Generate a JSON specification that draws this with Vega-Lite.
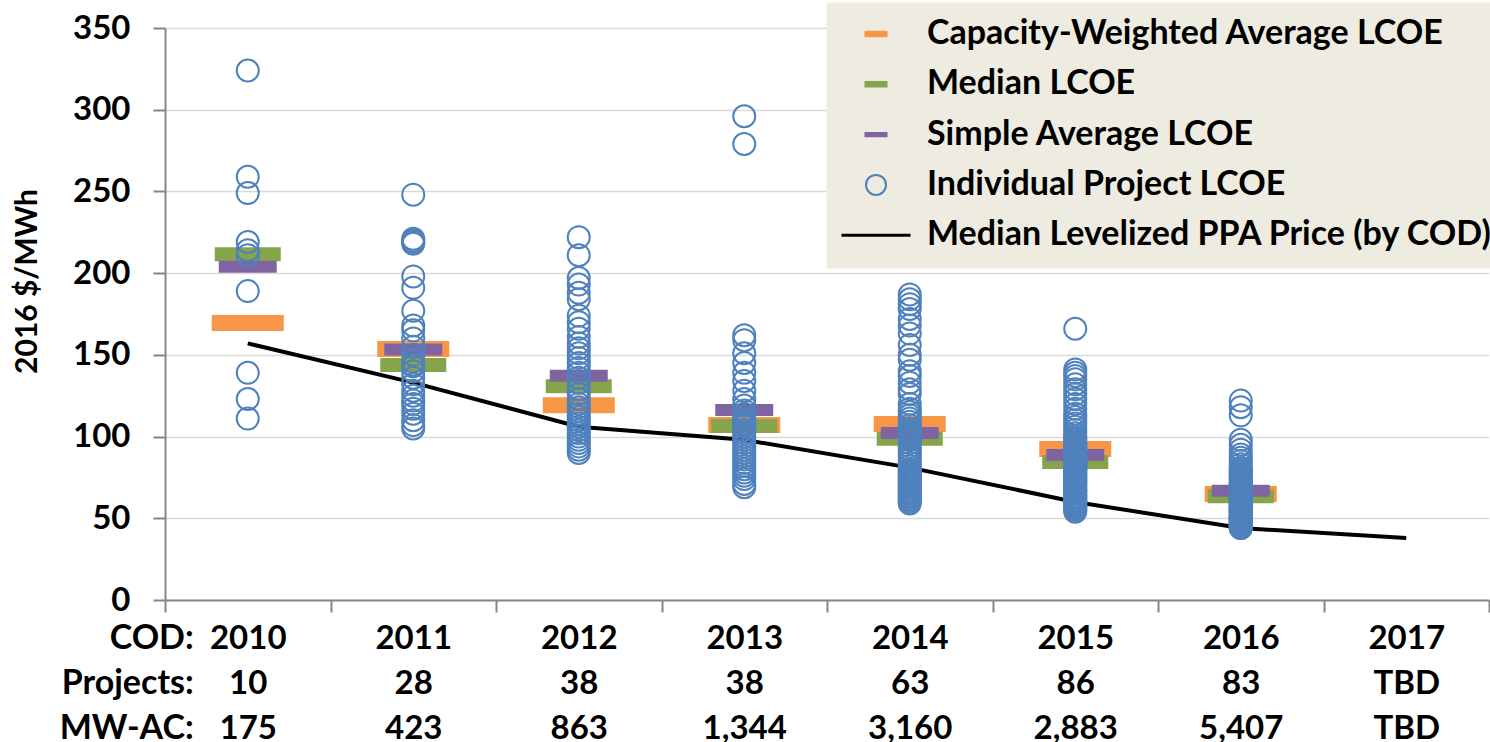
{
  "$schema": "https://vega.github.io/schema/vega-lite/v6.json",
  "width": 1324,
  "height": 572,
  "autosize": {"type": "none"},
  "padding": {"left": 165, "top": 28, "right": 1, "bottom": 142},
  "background": "white",
  "config": {
    "view": {"stroke": null},
    "font": "Lato",
    "axis": {
      "labelFont": "Lato", "labelFontWeight": "bold", "labelFontSize": 33, "labelColor": "#000",
      "titleFont": "Lato", "titleFontWeight": "bold", "titleColor": "#000",
      "domainColor": "#868686", "domainWidth": 2, "tickColor": "#868686", "tickWidth": 2, "tickSize": 12
    },
    "legend": {
      "orient": "none", "legendX": 661, "legendY": -26, "title": null,
      "fillColor": "#EEECE1", "strokeColor": "transparent", "padding": 15,
      "symbolOffset": 18, "symbolSize": 529, "symbolStrokeWidth": 2, "symbolOpacity": 1,
      "labelOffset": 34, "rowPadding": 16.3,
      "labelFont": "Lato", "labelFontSize": 34, "labelFontWeight": "bold", "labelColor": "#000", "labelLimit": 2000
    }
  },
  "datasets": {
    "ppa": [
      {"cod": "2010", "value": 157}, {"cod": "2011", "value": 133}, {"cod": "2012", "value": 106},
      {"cod": "2013", "value": 98}, {"cod": "2014", "value": 81}, {"cod": "2015", "value": 60},
      {"cod": "2016", "value": 44}, {"cod": "2017", "value": 38}
    ],
    "headers": [
      {"cod": "2010", "label": "COD:\nProjects:\nMW-AC:"}
    ],
    "stats": [
      {"cod": "2010", "series": "Capacity-Weighted Average LCOE", "value": 169.5},
      {"cod": "2011", "series": "Capacity-Weighted Average LCOE", "value": 153.6},
      {"cod": "2012", "series": "Capacity-Weighted Average LCOE", "value": 119.2},
      {"cod": "2013", "series": "Capacity-Weighted Average LCOE", "value": 107.1},
      {"cod": "2014", "series": "Capacity-Weighted Average LCOE", "value": 107.7},
      {"cod": "2015", "series": "Capacity-Weighted Average LCOE", "value": 92.4},
      {"cod": "2016", "series": "Capacity-Weighted Average LCOE", "value": 64.9},
      {"cod": "2010", "series": "Median LCOE", "value": 211.6},
      {"cod": "2011", "series": "Median LCOE", "value": 143.8},
      {"cod": "2012", "series": "Median LCOE", "value": 130.8},
      {"cod": "2013", "series": "Median LCOE", "value": 106.5},
      {"cod": "2014", "series": "Median LCOE", "value": 98.6},
      {"cod": "2015", "series": "Median LCOE", "value": 84.5},
      {"cod": "2016", "series": "Median LCOE", "value": 63.5},
      {"cod": "2010", "series": "Simple Average LCOE", "value": 203.9},
      {"cod": "2011", "series": "Simple Average LCOE", "value": 153.3},
      {"cod": "2012", "series": "Simple Average LCOE", "value": 137.2},
      {"cod": "2013", "series": "Simple Average LCOE", "value": 116.3},
      {"cod": "2014", "series": "Simple Average LCOE", "value": 102.2},
      {"cod": "2015", "series": "Simple Average LCOE", "value": 88.7},
      {"cod": "2016", "series": "Simple Average LCOE", "value": 66.8}
    ],
    "points": [
      {"cod":"2010","value":324},{"cod":"2010","value":259},{"cod":"2010","value":249},{"cod":"2010","value":219},{"cod":"2010","value":214},{"cod":"2010","value":211},{"cod":"2010","value":189},{"cod":"2010","value":139},{"cod":"2010","value":123},{"cod":"2010","value":111},
      {"cod":"2011","value":248},{"cod":"2011","value":221},{"cod":"2011","value":220},{"cod":"2011","value":219},{"cod":"2011","value":218},{"cod":"2011","value":198},{"cod":"2011","value":191},{"cod":"2011","value":177},{"cod":"2011","value":168},{"cod":"2011","value":165},{"cod":"2011","value":160},{"cod":"2011","value":155},{"cod":"2011","value":150},{"cod":"2011","value":146},{"cod":"2011","value":144},{"cod":"2011","value":143},{"cod":"2011","value":140},{"cod":"2011","value":136},{"cod":"2011","value":132},{"cod":"2011","value":128},{"cod":"2011","value":125},{"cod":"2011","value":122},{"cod":"2011","value":120},{"cod":"2011","value":117},{"cod":"2011","value":114},{"cod":"2011","value":110},{"cod":"2011","value":107},{"cod":"2011","value":105},
      {"cod":"2012","value":222},{"cod":"2012","value":211},{"cod":"2012","value":197},{"cod":"2012","value":193},{"cod":"2012","value":188},{"cod":"2012","value":184},{"cod":"2012","value":174},{"cod":"2012","value":170},{"cod":"2012","value":166},{"cod":"2012","value":161},{"cod":"2012","value":157},{"cod":"2012","value":154},{"cod":"2012","value":151},{"cod":"2012","value":148},{"cod":"2012","value":145},{"cod":"2012","value":142},{"cod":"2012","value":139},{"cod":"2012","value":136},{"cod":"2012","value":133},{"cod":"2012","value":129},{"cod":"2012","value":126},{"cod":"2012","value":123},{"cod":"2012","value":120},{"cod":"2012","value":118},{"cod":"2012","value":116},{"cod":"2012","value":114},{"cod":"2012","value":112},{"cod":"2012","value":110},{"cod":"2012","value":108},{"cod":"2012","value":106},{"cod":"2012","value":104},{"cod":"2012","value":102},{"cod":"2012","value":100},{"cod":"2012","value":98},{"cod":"2012","value":96},{"cod":"2012","value":94},{"cod":"2012","value":92},{"cod":"2012","value":90},
      {"cod":"2013","value":296},{"cod":"2013","value":279},{"cod":"2013","value":162},{"cod":"2013","value":159},{"cod":"2013","value":151},{"cod":"2013","value":145},{"cod":"2013","value":139},{"cod":"2013","value":134},{"cod":"2013","value":128},{"cod":"2013","value":123},{"cod":"2013","value":119},{"cod":"2013","value":116},{"cod":"2013","value":114},{"cod":"2013","value":112},{"cod":"2013","value":110},{"cod":"2013","value":109},{"cod":"2013","value":108},{"cod":"2013","value":107},{"cod":"2013","value":107},{"cod":"2013","value":106},{"cod":"2013","value":104},{"cod":"2013","value":102},{"cod":"2013","value":100},{"cod":"2013","value":98},{"cod":"2013","value":96},{"cod":"2013","value":94},{"cod":"2013","value":92},{"cod":"2013","value":90},{"cod":"2013","value":88},{"cod":"2013","value":86},{"cod":"2013","value":84},{"cod":"2013","value":82},{"cod":"2013","value":80},{"cod":"2013","value":78},{"cod":"2013","value":76},{"cod":"2013","value":74},{"cod":"2013","value":71},{"cod":"2013","value":69},
      {"cod":"2014","value":187},{"cod":"2014","value":184},{"cod":"2014","value":181},{"cod":"2014","value":178},{"cod":"2014","value":172},{"cod":"2014","value":168},{"cod":"2014","value":163},{"cod":"2014","value":156},{"cod":"2014","value":150},{"cod":"2014","value":147},{"cod":"2014","value":140},{"cod":"2014","value":137},{"cod":"2014","value":133},{"cod":"2014","value":129},{"cod":"2014","value":126},{"cod":"2014","value":120},{"cod":"2014","value":117},{"cod":"2014","value":115},{"cod":"2014","value":113},{"cod":"2014","value":111},{"cod":"2014","value":109},{"cod":"2014","value":107},{"cod":"2014","value":105},{"cod":"2014","value":104},{"cod":"2014","value":103},{"cod":"2014","value":102},{"cod":"2014","value":101},{"cod":"2014","value":101},{"cod":"2014","value":100},{"cod":"2014","value":100},{"cod":"2014","value":100},{"cod":"2014","value":99},{"cod":"2014","value":98},{"cod":"2014","value":96},{"cod":"2014","value":94},{"cod":"2014","value":92},{"cod":"2014","value":90},{"cod":"2014","value":88},{"cod":"2014","value":86},{"cod":"2014","value":84},{"cod":"2014","value":82},{"cod":"2014","value":80},{"cod":"2014","value":79},{"cod":"2014","value":78},{"cod":"2014","value":77},{"cod":"2014","value":76},{"cod":"2014","value":75},{"cod":"2014","value":74},{"cod":"2014","value":73},{"cod":"2014","value":72},{"cod":"2014","value":71},{"cod":"2014","value":70},{"cod":"2014","value":69},{"cod":"2014","value":68},{"cod":"2014","value":67},{"cod":"2014","value":66},{"cod":"2014","value":65},{"cod":"2014","value":64},{"cod":"2014","value":63},{"cod":"2014","value":62},{"cod":"2014","value":61},{"cod":"2014","value":60},{"cod":"2014","value":59},
      {"cod":"2015","value":166},{"cod":"2015","value":141},{"cod":"2015","value":139},{"cod":"2015","value":137},{"cod":"2015","value":135},{"cod":"2015","value":132},{"cod":"2015","value":129},{"cod":"2015","value":126},{"cod":"2015","value":123},{"cod":"2015","value":120},{"cod":"2015","value":117},{"cod":"2015","value":114},{"cod":"2015","value":112},{"cod":"2015","value":110},{"cod":"2015","value":108},{"cod":"2015","value":106},{"cod":"2015","value":104},{"cod":"2015","value":102},{"cod":"2015","value":100},{"cod":"2015","value":99},{"cod":"2015","value":98},{"cod":"2015","value":97},{"cod":"2015","value":96},{"cod":"2015","value":95},{"cod":"2015","value":94},{"cod":"2015","value":93},{"cod":"2015","value":92},{"cod":"2015","value":91},{"cod":"2015","value":90},{"cod":"2015","value":89},{"cod":"2015","value":88},{"cod":"2015","value":88},{"cod":"2015","value":87},{"cod":"2015","value":87},{"cod":"2015","value":86},{"cod":"2015","value":86},{"cod":"2015","value":86},{"cod":"2015","value":85},{"cod":"2015","value":85},{"cod":"2015","value":85},{"cod":"2015","value":85},{"cod":"2015","value":85},{"cod":"2015","value":85},
      {"cod":"2015","value":84},{"cod":"2015","value":84},{"cod":"2015","value":83},{"cod":"2015","value":83},{"cod":"2015","value":82},{"cod":"2015","value":82},{"cod":"2015","value":81},{"cod":"2015","value":80},{"cod":"2015","value":80},{"cod":"2015","value":79},{"cod":"2015","value":78},{"cod":"2015","value":78},{"cod":"2015","value":77},{"cod":"2015","value":76},{"cod":"2015","value":76},{"cod":"2015","value":75},{"cod":"2015","value":74},{"cod":"2015","value":73},{"cod":"2015","value":72},{"cod":"2015","value":72},{"cod":"2015","value":71},{"cod":"2015","value":70},{"cod":"2015","value":69},{"cod":"2015","value":68},{"cod":"2015","value":67},{"cod":"2015","value":67},{"cod":"2015","value":66},{"cod":"2015","value":65},{"cod":"2015","value":64},{"cod":"2015","value":63},{"cod":"2015","value":63},{"cod":"2015","value":62},{"cod":"2015","value":61},{"cod":"2015","value":60},{"cod":"2015","value":60},{"cod":"2015","value":59},{"cod":"2015","value":59},{"cod":"2015","value":58},{"cod":"2015","value":57},{"cod":"2015","value":57},{"cod":"2015","value":56},{"cod":"2015","value":55},{"cod":"2015","value":54},
      {"cod":"2016","value":122},{"cod":"2016","value":118},{"cod":"2016","value":113},{"cod":"2016","value":98},{"cod":"2016","value":95},{"cod":"2016","value":92},{"cod":"2016","value":89},{"cod":"2016","value":87},{"cod":"2016","value":85},{"cod":"2016","value":83},{"cod":"2016","value":81},{"cod":"2016","value":80},{"cod":"2016","value":79},{"cod":"2016","value":78},{"cod":"2016","value":77},{"cod":"2016","value":76},{"cod":"2016","value":75},{"cod":"2016","value":74},{"cod":"2016","value":73},{"cod":"2016","value":72},{"cod":"2016","value":71},{"cod":"2016","value":70},{"cod":"2016","value":70},{"cod":"2016","value":69},{"cod":"2016","value":69},{"cod":"2016","value":68},{"cod":"2016","value":68},{"cod":"2016","value":67},{"cod":"2016","value":67},{"cod":"2016","value":66},{"cod":"2016","value":66},{"cod":"2016","value":65},{"cod":"2016","value":65},{"cod":"2016","value":65},{"cod":"2016","value":64},{"cod":"2016","value":64},{"cod":"2016","value":64},{"cod":"2016","value":64},{"cod":"2016","value":64},{"cod":"2016","value":64},{"cod":"2016","value":64},{"cod":"2016","value":63},
      {"cod":"2016","value":63},{"cod":"2016","value":63},{"cod":"2016","value":62},{"cod":"2016","value":62},{"cod":"2016","value":62},{"cod":"2016","value":61},{"cod":"2016","value":61},{"cod":"2016","value":60},{"cod":"2016","value":60},{"cod":"2016","value":59},{"cod":"2016","value":59},{"cod":"2016","value":58},{"cod":"2016","value":58},{"cod":"2016","value":57},{"cod":"2016","value":57},{"cod":"2016","value":56},{"cod":"2016","value":56},{"cod":"2016","value":55},{"cod":"2016","value":55},{"cod":"2016","value":54},{"cod":"2016","value":54},{"cod":"2016","value":53},{"cod":"2016","value":53},{"cod":"2016","value":52},{"cod":"2016","value":52},{"cod":"2016","value":51},{"cod":"2016","value":51},{"cod":"2016","value":50},{"cod":"2016","value":50},{"cod":"2016","value":49},{"cod":"2016","value":49},{"cod":"2016","value":48},{"cod":"2016","value":48},{"cod":"2016","value":47},{"cod":"2016","value":47},{"cod":"2016","value":46},{"cod":"2016","value":46},{"cod":"2016","value":45},{"cod":"2016","value":45},{"cod":"2016","value":44},{"cod":"2016","value":44}
    ]
  },
  "encoding": {
    "x": {
      "field": "cod", "type": "nominal",
      "scale": {"domain": ["2010","2011","2012","2013","2014","2015","2016","2017"], "paddingInner": 0, "paddingOuter": 0},
      "axis": {
        "title": null, "labelAngle": 0, "tickBand": "extent", "grid": false, "labelOverlap": false,
        "labelPadding": 10, "labelLineHeight": 45, "labelBaseline": "top",
        "labelExpr": "datum.value=='2010'?['2010','10','175']:datum.value=='2011'?['2011','28','423']:datum.value=='2012'?['2012','38','863']:datum.value=='2013'?['2013','38','1,344']:datum.value=='2014'?['2014','63','3,160']:datum.value=='2015'?['2015','86','2,883']:datum.value=='2016'?['2016','83','5,407']:datum.value=='2017'?['2017','TBD','TBD']:''"
      }
    },
    "y": {
      "field": "value", "type": "quantitative",
      "scale": {"domain": [0, 350], "nice": false},
      "axis": {
        "title": "2016 $/MWh", "titleFontSize": 30, "titlePadding": 30, "titleY": 253,
        "values": [0, 50, 100, 150, 200, 250, 300, 350],
        "grid": true, "gridColor": "#D9D9D9", "gridWidth": 1.5, "labelPadding": 23
      }
    }
  },
  "layer": [
    {
      "data": {"name": "ppa"},
      "mark": {"type": "line", "color": "#000000", "strokeWidth": 4}
    },
    {
      "data": {"name": "stats"},
      "transform": [{"filter": "datum.series=='Capacity-Weighted Average LCOE'"}],
      "mark": {"type": "tick", "size": 72, "thickness": 16, "opacity": 1, "orient": "horizontal", "color": "#F79646"}
    },
    {
      "data": {"name": "stats"},
      "transform": [{"filter": "datum.series=='Median LCOE'"}],
      "mark": {"type": "tick", "size": 66, "thickness": 14, "opacity": 1, "orient": "horizontal", "color": "#86A44A"}
    },
    {
      "data": {"name": "stats"},
      "transform": [{"filter": "datum.series=='Simple Average LCOE'"}],
      "mark": {"type": "tick", "size": 58, "thickness": 12, "opacity": 1, "orient": "horizontal", "color": "#8064A2"}
    },
    {
      "data": {"name": "points"},
      "mark": {"type": "point", "filled": false, "strokeWidth": 2, "size": 640, "opacity": 1},
      "encoding": {
        "color": {
          "datum": "Individual Project LCOE", "type": "nominal",
          "scale": {
            "domain": ["Capacity-Weighted Average LCOE", "Median LCOE", "Simple Average LCOE", "Individual Project LCOE", "Median Levelized PPA Price (by COD)"],
            "range": ["#F79646", "#86A44A", "#8064A2", "#4F81BD", "#000000"]
          },
          "legend": {"title": null}
        },
        "shape": {
          "datum": "Individual Project LCOE", "type": "nominal",
          "scale": {
            "domain": ["Capacity-Weighted Average LCOE", "Median LCOE", "Simple Average LCOE", "Individual Project LCOE", "Median Levelized PPA Price (by COD)"],
            "range": [
              "M-1,-0.2H1M-1,-0.1H1M-1,0H1M-1,0.1H1M-1,0.2H1",
              "M-1,-0.2H1M-1,-0.1H1M-1,0H1M-1,0.1H1M-1,0.2H1",
              "M-1,-0.15H1M-1,-0.05H1M-1,0.05H1M-1,0.15H1",
              "M0.87,0A0.87,0.87 0 1,1 -0.87,0A0.87,0.87 0 1,1 0.87,0Z",
              "M-3,-0.05H3M-3,0.05H3"
            ]
          },
          "legend": {"title": null}
        }
      }
    },
    {
      "data": {"name": "headers"},
      "mark": {"type": "text", "align": "right", "baseline": "top", "dx": -54, "dy": 22, "lineHeight": 45, "lineBreak": "\n", "font": "Lato", "fontSize": 34, "fontWeight": "bold", "color": "#000000"},
      "encoding": {
        "x": {"field": "cod", "type": "nominal"},
        "y": {"value": "height"},
        "text": {"field": "label", "type": "nominal"}
      }
    }
  ]
}
